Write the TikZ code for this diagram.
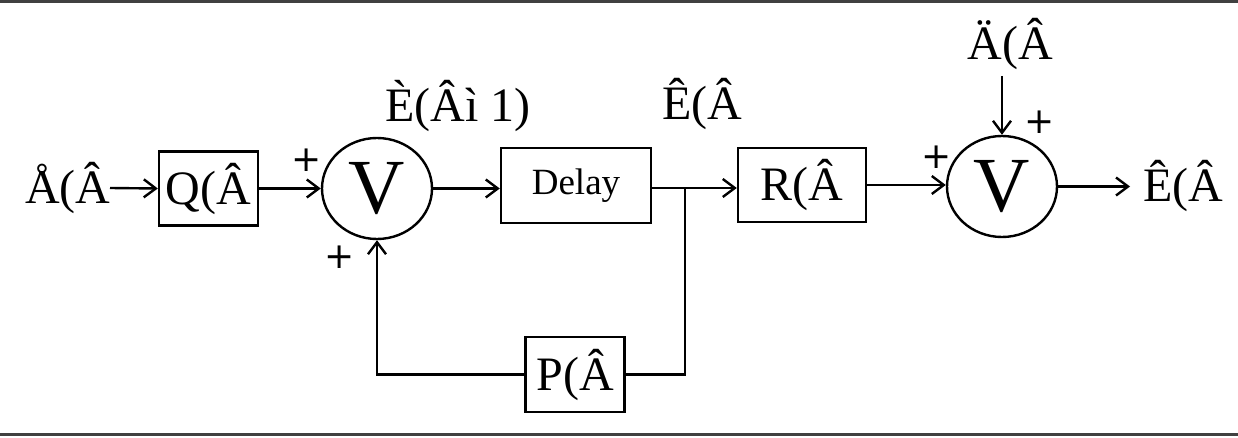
\documentclass[tikz,border=0pt]{standalone}
\usepackage{fontspec}
\setmainfont{Liberation Serif}
\newfontfamily\plusfont{DejaVu Sans}
\usetikzlibrary{arrows.meta,positioning,shapes.geometric}
\tikzset{
  blk/.style={draw, line width=2.4pt, minimum width=#1, inner sep=0pt},
  blk/.default=100pt,
  sumnode/.style={draw, ellipse, line width=2.4pt, minimum width=110pt, minimum height=101pt, inner sep=0pt, font=\fontsize{78}{80}\selectfont},
  lbl/.style={inner sep=0pt, font=\fontsize{48}{56}\selectfont},
  pls/.style={inner sep=0pt, font=\plusfont\fontsize{36}{40}\selectfont},
  wire/.style={line width=2.4pt},
  arr/.style={wire, -{Straight Barb[length=12pt,width=18pt,line width=2.4pt]}},
  border/.style={line width=3pt, black!75}
}
\begin{document}
\begin{tikzpicture}[x=1pt,y=-1pt]
\useasboundingbox (0,0) rectangle (1238,438);
\draw[border] (0,1.5) -- (1238,1.5);
\draw[border] (0,434) -- (1238,434);
% blocks
\node[blk=99pt, minimum height=74pt, lbl] (Q) at (208.5,188.5) {Q(Â};
\node[sumnode] (s1) at (377,188.5) {V};
\node[blk=150pt, minimum height=75pt, font=\fontsize{37}{40}\selectfont] (D) at (576,185.5) {Delay};
\node[blk=128pt, minimum height=74pt, lbl] (R) at (802,185) {R(Â};
\node[sumnode] (s2) at (1002,186.5) {V};
\node[blk=99pt, minimum height=75pt, lbl] (P) at (575,374.5) {P(Â};
% labels
\node[lbl] (u) at (68,188) {Å(Â};
\node[lbl] (xk1) at (458,106) {È(Âì 1)};
\node[lbl] (xk) at (702,104) {Ê(Â};
\node[lbl] (d) at (1010,44) {Ä(Â};
\node[lbl] (y) at (1183,186) {Ê(Â};
% plus signs
\node[pls] (p1) at (307,160) {+};
\node[pls] (p2) at (340,257) {+};
\node[pls] (p3) at (937,157) {+};
\node[pls] (p4) at (1040,122) {+};
% connectors
\coordinate (br) at (685,188);
\draw[arr] (110,188) -- (Q.west);
\draw[arr] (Q.east) -- (s1.west);
\draw[arr] (s1.east) -- (D.west |- s1.east);
\draw[wire] (D.east |- br) -- (br);
\draw[arr] (br) -- (R.west |- br);
\draw[wire] (br) |- (P.east);
\draw[arr] (P.west) -| (s1.south);
\draw[arr] (R.east) -- (s2.west |- R.east);
\draw[arr] (d.south -| s2.north) ++(0,6) -- (s2.north);
\draw[arr] (s2.east) -- (1130,186.5);
\end{tikzpicture}
\end{document}
